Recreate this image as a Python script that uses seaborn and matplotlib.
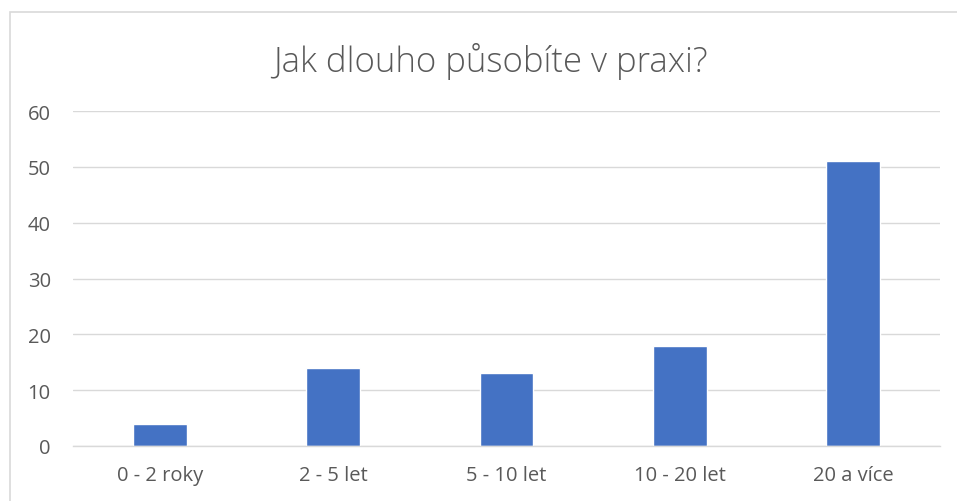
import matplotlib
matplotlib.use("Agg")
import matplotlib.pyplot as plt
import seaborn as sns
import pandas as pd
from matplotlib.patches import Rectangle

categories = ["0 - 2 roky", "2 - 5 let", "5 - 10 let", "10 - 20 let", "20 a více"]
values = [4, 14, 13, 18, 51]
yticks = [0, 10, 20, 30, 40, 50, 60]
title = "Jak dlouho působíte v praxi?"

df = pd.DataFrame({"cat": categories, "val": values})

sns.set_theme(style="white")
plt.rcParams["font.family"] = ["Open Sans", "DejaVu Sans"]

fig = plt.figure(figsize=(9.57, 5.02), dpi=100)
ax = fig.add_axes([73/957, 1-447/502, (940-73)/957, (447-112)/502])

sns.barplot(data=df, x="cat", y="val", color="#4472C4", width=0.31, ax=ax, saturation=1)
ax.set_ylim(0, 60)
ax.set_yticks(yticks)
ax.set_yticklabels([str(t) for t in yticks])
ax.set_xlim(-0.5, len(categories) - 0.5)
ax.yaxis.grid(True, color="#d9d9d9", linewidth=1)
ax.set_axisbelow(True)
for s in ["top", "right", "left"]:
    ax.spines[s].set_visible(False)
ax.spines["bottom"].set_color("#d9d9d9")
ax.spines["bottom"].set_linewidth(1)
ax.set_xlabel("")
ax.set_ylabel("")
ax.tick_params(axis="both", length=0, labelsize=14.5, labelcolor="#595959")
ax.tick_params(axis="y", pad=16)
ax.tick_params(axis="x", pad=14)

fig.text(490/957, 1-62/502, title, ha="center", va="center", fontsize=25,
         color="#595959", fontweight="light")

fig.patches.append(Rectangle((10/957, -0.1), 1.2, 1-13/502+0.1, transform=fig.transFigure,
                             fill=False, edgecolor="#d9d9d9", linewidth=1.2))

fig.savefig("out.png", dpi=100)
